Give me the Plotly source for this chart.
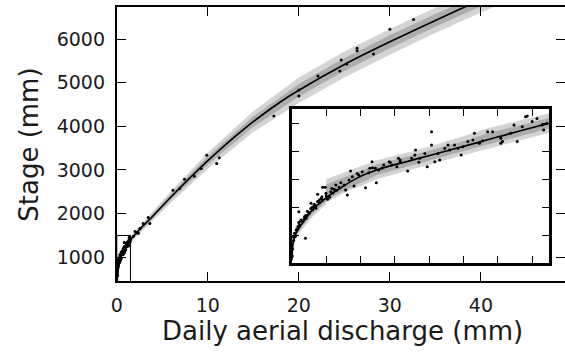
import plotly.graph_objects as go

# ---- data ----
# fitted rating curve (discharge mm, stage mm)
curve_x = [0, 0.006, 0.025, 0.058, 0.115, 0.19, 0.29, 0.385, 0.525, 0.814, 1.103, 1.487,
           2.5, 3.6, 6, 10, 14, 18, 20, 25, 30, 35, 40, 45, 50]
curve_y = [420, 540, 615, 680, 773, 857, 941, 1010, 1076, 1171, 1267, 1393,
           1635, 1865, 2393, 3213, 3943, 4563, 4827, 5417, 5937, 6427, 6897, 7347, 7777]

# uncertainty bands
band_x = [0.0, 0.02, 0.06, 0.12, 0.199, 0.2, 0.3, 0.5, 0.75, 1.0, 1.135, 1.5,
          3, 6, 10, 15, 20, 25, 30, 35, 40, 45, 50]
outer_lo = [400, 570, 640, 730, 820, 830, 900, 1000, 1085, 1170, 1215, 1330,
            1650, 2263, 3023, 3868, 4537, 5117, 5642, 6137, 6607, 7057, 7487]
outer_hi = [560, 660, 720, 800, 880, 1000, 1045, 1135, 1214, 1305, 1360, 1470,
            1830, 2523, 3403, 4348, 5117, 5717, 6232, 6717, 7187, 7637, 8067]
inner_lo = [420, 590, 660, 750, 840, 850, 915, 1030, 1115, 1200, 1245, 1360,
            1695, 2328, 3118, 3988, 4682, 5267, 5789, 6282, 6752, 7202, 7632]
inner_hi = [540, 640, 700, 785, 870, 960, 1010, 1105, 1185, 1270, 1325, 1435,
            1785, 2458, 3308, 4228, 4972, 5567, 6085, 6572, 7042, 7492, 7922]

# observations at low discharge (shown in inset and main panel)
obs_lo_x = [0.814, 0.040, 0.079, 0.492, 0.429, 0.675, 0.789, 0.179, 0.194, 0.150,
            0.342, 0.41, 0.454, 0.47, 0.381, 0.323, 0.313, 0.362, 0.256, 0.285,
            0.233, 0.208, 0.140, 0.121, 0.102, 0.083, 0.064, 0.044, 0.025, 0.015,
            0.006, 0.111, 0.160, 0.175, 0.131, 0.092, 0.054, 0.073, 0.035, 0.179,
            0.198, 0.227, 0.246, 0.275, 0.304, 0.333, 0.352, 0.390, 0.448, 0.506,
            0.525, 0.573, 0.631, 0.631, 0.717, 0.721, 0.746, 0.740, 0.833, 0.862,
            0.814, 0.891, 0.920, 0.948, 0.968, 0.997, 1.026, 1.064, 1.055, 1.093,
            1.112, 1.141, 1.170, 1.218, 1.228, 1.276, 1.295, 1.314, 1.343, 1.362,
            1.372, 1.401, 1.429, 1.458, 1.468, 1.487, 1.218, 0.583, 0.612, 0.467,
            0.567, 0.910, 0.987, 0.852, 0.775, 0.698, 0.621, 0.535, 0.487,
            0.01, 0.02, 0.03, 0.04, 0.05, 0.07, 0.08, 0.09, 0.10, 0.11, 0.12, 0.13,
            0.14, 0.15, 0.16, 0.17, 0.20, 0.22, 0.24, 0.26, 0.002, 0.004]
obs_lo_y = [1338, 766, 576, 974, 938, 1057, 1088, 941, 941, 891,
            1057, 1052, 1076, 1080, 1040, 886, 921, 950, 957, 974,
            933, 855, 791, 780, 755, 719, 695, 671, 636, 612,
            588, 826, 850, 873, 807, 743, 707, 731, 659, 850,
            898, 909, 926, 941, 957, 993, 1016, 1029, 1045, 1064,
            1076, 1119, 1136, 1124, 1171, 1207, 1148, 1119, 1123, 1136,
            1243, 1219, 1207, 1243, 1219, 1231, 1267, 1326, 1279, 1255,
            1274, 1338, 1338, 1291, 1267, 1326, 1386, 1267, 1374, 1445,
            1450, 1410, 1433, 1386, 1350, 1398, 1255, 1100, 1088, 1123,
            1123, 1243, 1171, 1183, 1183, 1148, 1148, 1100, 1076,
            560, 590, 640, 690, 700, 710, 740, 770, 760, 790, 800, 820,
            810, 840, 830, 860, 880, 870, 900, 920, 450, 500]

# observations at higher discharge (main panel)
obs_hi_x = [1.8, 2.0, 2.18, 2.36, 2.54, 2.9, 3.45, 3.63, 6.17, 6.9, 7.44, 8.53, 9.26,
            9.88, 10.97, 11.26, 17.25, 20.0, 20.0, 22.1, 24.5, 24.65, 25.27, 26.4,
            26.4, 28.2, 30.0, 32.6]
obs_hi_y = [1473, 1590, 1564, 1552, 1658, 1773, 1910, 1773, 2537, 2575, 2789, 2858,
            3034, 3339, 3149, 3278, 4234, 4830, 4693, 5151, 5266, 5518, 5427, 5786,
            5732, 5656, 6222, 6450]

x_ticks_main = [0, 10, 20, 30, 40]
y_ticks_main = [1000, 2000, 3000, 4000, 5000, 6000]
inset_box_x = [0, 1.5]
inset_box_y = [300, 1500]

W, H = 565, 352
FONT = "DejaVu Sans"
TXT = "#1a1a1a"
OUTER = "rgb(212,212,212)"
INNER = "rgb(172,172,172)"

fig = go.Figure()


def add_set(xa, ya, msize):
    fig.add_trace(go.Scatter(x=band_x + band_x[::-1], y=outer_hi + outer_lo[::-1],
                             fill="toself", fillcolor=OUTER, line=dict(width=0),
                             mode="lines", hoverinfo="skip", xaxis=xa, yaxis=ya))
    fig.add_trace(go.Scatter(x=band_x + band_x[::-1], y=inner_hi + inner_lo[::-1],
                             fill="toself", fillcolor=INNER, line=dict(width=0),
                             mode="lines", hoverinfo="skip", xaxis=xa, yaxis=ya))
    fig.add_trace(go.Scatter(x=curve_x, y=curve_y, mode="lines",
                             line=dict(color="black", width=1.6, shape="spline", smoothing=0.8),
                             xaxis=xa, yaxis=ya))
    fig.add_trace(go.Scatter(x=obs_lo_x + obs_hi_x, y=obs_lo_y + obs_hi_y, mode="markers",
                             marker=dict(color="black", size=msize),
                             xaxis=xa, yaxis=ya))


add_set("x", "y", 3)
add_set("x2", "y2", 3)
# invisible trace to carry the right-hand tick axis of the main panel
fig.add_trace(go.Scatter(x=[0], y=[1000], mode="markers", marker=dict(opacity=0),
                         xaxis="x", yaxis="y3", hoverinfo="skip"))

x0d, x1d = 112 / W, 1.0
y0d, y1d = 1 - 281 / H, 1 - 7 / H
xr = [0, 49.24]
yr = [456, 6734]

common = dict(showgrid=False, zeroline=False, ticks="inside", tickcolor="black",
              linecolor="black")
fig.update_layout(
    width=W, height=H, margin=dict(l=0, r=0, t=0, b=0),
    paper_bgcolor="white", plot_bgcolor="white", showlegend=False,
    xaxis=dict(domain=[x0d, x1d], range=xr, anchor="y", tickvals=x_ticks_main,
               showline=True, linewidth=2, mirror="ticks", ticklen=9, tickwidth=1,
               tickfont=dict(family=FONT, size=19, color=TXT), ticklabelstandoff=6,
               **common),
    yaxis=dict(domain=[y0d, y1d], range=yr, anchor="x", tickvals=y_ticks_main,
               showline=True, linewidth=2, mirror=False, ticklen=9, tickwidth=1,
               tickfont=dict(family=FONT, size=19, color=TXT), ticklabelstandoff=6,
               **common),
    yaxis3=dict(domain=[y0d, y1d], range=yr, anchor="x", overlaying="y", side="right",
                tickvals=y_ticks_main, showline=False, ticklen=9, tickwidth=1,
                showticklabels=False, **common),
    xaxis2=dict(domain=[289 / W, 549 / W], range=[0, 1.5], anchor="y2", dtick=0.2, tick0=0,
                showline=True, linewidth=2.5, mirror="ticks", ticklen=7, tickwidth=1,
                showticklabels=False, **common),
    yaxis2=dict(domain=[1 - 263 / H, 1 - 109 / H], range=[400, 1500], anchor="x2",
                dtick=200, tick0=0, showline=True, linewidth=2.5, mirror="ticks",
                ticklen=7, tickwidth=1, showticklabels=False, **common),
)

fig.add_shape(type="rect", xref="x", yref="y", x0=inset_box_x[0], x1=inset_box_x[1],
              y0=inset_box_y[0], y1=inset_box_y[1], line=dict(color="black", width=1))

fig.add_annotation(text="Daily aerial discharge (mm)", xref="paper", yref="paper",
                   x=340.5 / W, y=1 - 331 / H, xanchor="center", yanchor="middle",
                   showarrow=False, font=dict(family=FONT, size=26, color=TXT))
fig.add_annotation(text="Stage (mm)", xref="paper", yref="paper",
                   x=23 / W, y=1 - 145 / H, xanchor="center", yanchor="middle",
                   textangle=-90, showarrow=False, font=dict(family=FONT, size=26, color=TXT))

fig.write_html("out.html")
